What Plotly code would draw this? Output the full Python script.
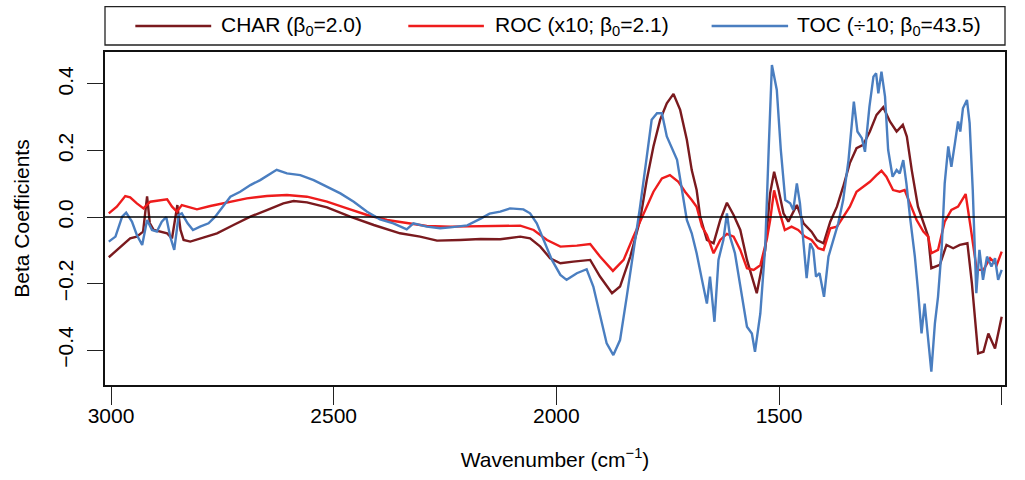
import plotly.graph_objects as go

# Beta coefficient spectra (wavenumber in cm^-1, beta)
char_points = [
    (3005, -0.121), (2979, -0.089), (2957, -0.064), (2942, -0.059), (2928, -0.044),
    (2919, 0.062), (2913, -0.018), (2904, -0.039), (2874, -0.049), (2863, -0.064),
    (2851, 0.036), (2844, -0.039), (2837, -0.069), (2822, -0.074), (2800, -0.064),
    (2762, -0.049), (2725, -0.024), (2687, 0.001), (2650, 0.021), (2613, 0.041),
    (2590, 0.048), (2560, 0.044), (2515, 0.029), (2463, 0.001), (2410, -0.024),
    (2351, -0.049), (2306, -0.059), (2268, -0.071), (2216, -0.069), (2170, -0.066),
    (2126, -0.067), (2081, -0.059), (2059, -0.064), (2036, -0.089), (2014, -0.124),
    (1991, -0.139), (1962, -0.134), (1924, -0.129), (1902, -0.179), (1875, -0.229),
    (1857, -0.209), (1834, -0.119), (1812, -0.009), (1797, 0.111), (1782, 0.212),
    (1767, 0.292), (1752, 0.342), (1737, 0.370), (1722, 0.322), (1707, 0.232),
    (1696, 0.141), (1685, 0.081), (1677, 0.001), (1662, -0.069), (1647, -0.079),
    (1632, -0.009), (1617, 0.043), (1602, 0.006), (1587, -0.039), (1572, -0.129),
    (1550, -0.229), (1531, -0.099), (1520, 0.071), (1511, 0.136), (1501, 0.081),
    (1490, 0.011), (1479, -0.014), (1460, 0.036), (1445, -0.019), (1427, -0.044),
    (1415, -0.069), (1400, -0.079), (1385, -0.014), (1370, 0.031), (1356, 0.091),
    (1341, 0.162), (1326, 0.207), (1311, 0.217), (1296, 0.257), (1281, 0.307),
    (1266, 0.330), (1251, 0.287), (1236, 0.257), (1222, 0.277), (1213, 0.242),
    (1202, 0.141), (1188, 0.031), (1176, -0.019), (1165, -0.059), (1158, -0.154),
    (1139, -0.144), (1124, -0.084), (1109, -0.094), (1094, -0.084), (1077, -0.079),
    (1067, -0.199), (1053, -0.410), (1041, -0.405), (1030, -0.350), (1015, -0.395),
    (1000, -0.300),
]

roc_points = [
    (3005, 0.011), (2987, 0.031), (2968, 0.063), (2957, 0.059), (2942, 0.041),
    (2927, 0.026), (2912, 0.046), (2893, 0.049), (2874, 0.053), (2863, 0.031),
    (2852, 0.016), (2841, 0.036), (2826, 0.031), (2807, 0.023), (2777, 0.033),
    (2740, 0.044), (2695, 0.056), (2650, 0.063), (2605, 0.066), (2560, 0.061),
    (2515, 0.046), (2470, 0.026), (2425, 0.006), (2380, -0.009), (2336, -0.019),
    (2291, -0.027), (2238, -0.029), (2180, -0.028), (2126, -0.029), (2081, -0.026),
    (2051, -0.039), (2021, -0.069), (1991, -0.089), (1954, -0.086), (1924, -0.081),
    (1902, -0.119), (1873, -0.162), (1849, -0.129), (1827, -0.059), (1804, 0.011),
    (1782, 0.076), (1763, 0.116), (1745, 0.126), (1726, 0.106), (1711, 0.076),
    (1696, 0.051), (1685, 0.031), (1673, -0.029), (1662, -0.054), (1647, -0.109),
    (1632, -0.069), (1617, -0.051), (1602, -0.059), (1587, -0.099), (1572, -0.154),
    (1557, -0.159), (1542, -0.145), (1527, -0.064), (1520, -0.010), (1511, 0.080),
    (1500, 0.020), (1487, -0.039), (1472, -0.029), (1457, -0.039), (1442, -0.059),
    (1427, -0.069), (1412, -0.094), (1400, -0.099), (1385, -0.034), (1370, -0.029),
    (1356, 0.001), (1341, 0.031), (1326, 0.076), (1311, 0.091), (1296, 0.106),
    (1281, 0.126), (1270, 0.139), (1259, 0.121), (1244, 0.081), (1229, 0.076),
    (1218, 0.081), (1206, 0.041), (1191, -0.009), (1176, -0.044), (1165, -0.059),
    (1158, -0.109), (1143, -0.099), (1128, -0.014), (1113, 0.021), (1098, 0.031),
    (1081, 0.069), (1070, -0.029), (1056, -0.159), (1041, -0.159), (1026, -0.124),
    (1011, -0.144), (1000, -0.104),
]

toc_points = [
    (3005, -0.074), (2990, -0.059), (2975, 0.001), (2966, 0.013), (2953, -0.014),
    (2942, -0.054), (2930, -0.084), (2919, -0.009), (2908, -0.039), (2897, -0.044),
    (2886, -0.014), (2876, 0.000), (2867, -0.059), (2858, -0.099), (2848, 0.006),
    (2841, 0.011), (2828, -0.019), (2816, -0.039), (2800, -0.029), (2781, -0.019),
    (2766, 0.001), (2747, 0.036), (2732, 0.061), (2710, 0.076), (2687, 0.096),
    (2665, 0.111), (2642, 0.129), (2628, 0.142), (2605, 0.131), (2575, 0.126),
    (2545, 0.111), (2515, 0.091), (2485, 0.071), (2455, 0.046), (2425, 0.016),
    (2396, -0.007), (2366, -0.019), (2336, -0.037), (2321, -0.019), (2291, -0.029),
    (2261, -0.034), (2238, -0.031), (2200, -0.025), (2170, -0.005), (2150, 0.010),
    (2126, 0.016), (2104, 0.026), (2074, 0.023), (2059, 0.011), (2044, -0.019),
    (2029, -0.069), (2010, -0.129), (1991, -0.174), (1977, -0.189), (1954, -0.169),
    (1932, -0.157), (1917, -0.209), (1902, -0.290), (1887, -0.380), (1872, -0.415),
    (1857, -0.370), (1842, -0.240), (1827, -0.109), (1812, 0.031), (1797, 0.181),
    (1786, 0.292), (1774, 0.312), (1763, 0.312), (1752, 0.242), (1741, 0.207),
    (1729, 0.172), (1718, 0.081), (1707, -0.009), (1696, -0.049), (1685, -0.109),
    (1673, -0.189), (1662, -0.260), (1655, -0.179), (1645, -0.315), (1636, -0.129),
    (1625, -0.069), (1617, 0.011), (1610, -0.059), (1599, -0.109), (1587, -0.209),
    (1572, -0.330), (1561, -0.350), (1554, -0.405), (1542, -0.290), (1531, -0.089),
    (1523, 0.212), (1516, 0.457), (1505, 0.382), (1496, 0.202), (1486, 0.051),
    (1475, 0.041), (1468, 0.021), (1460, 0.101), (1453, 0.041), (1445, -0.079),
    (1438, -0.184), (1430, -0.079), (1423, -0.099), (1417, -0.179), (1409, -0.169),
    (1399, -0.240), (1389, -0.119), (1378, -0.069), (1367, -0.019), (1356, 0.051),
    (1344, 0.171), (1332, 0.347), (1324, 0.257), (1314, 0.237), (1307, 0.196),
    (1297, 0.332), (1288, 0.422), (1282, 0.432), (1277, 0.372), (1270, 0.437),
    (1262, 0.362), (1255, 0.202), (1245, 0.121), (1236, 0.141), (1229, 0.131),
    (1221, 0.171), (1214, 0.101), (1206, 0.001), (1195, -0.119), (1188, -0.220),
    (1180, -0.350), (1173, -0.260), (1165, -0.370), (1158, -0.465), (1150, -0.320),
    (1143, -0.240), (1135, -0.099), (1128, 0.101), (1120, 0.212), (1113, 0.151),
    (1105, 0.222), (1098, 0.287), (1093, 0.257), (1087, 0.327), (1078, 0.352),
    (1072, 0.282), (1065, 0.081), (1057, -0.229), (1050, -0.099), (1042, -0.189),
    (1033, -0.119), (1023, -0.149), (1015, -0.124), (1008, -0.189), (1000, -0.159),
]

series_names = ["CHAR", "ROC", "TOC"]
legend_labels = [
    "CHAR (β<sub>0</sub>=2.0)",
    "ROC (x10; β<sub>0</sub>=2.1)",
    "TOC (÷10; β<sub>0</sub>=43.5)",
]
x_ticks = [3000, 2500, 2000, 1500, 1000]
y_ticks = [-0.4, -0.2, 0.0, 0.2, 0.4]

colors = ["#7A1A1E", "#EE1C1C", "#4A7EC0"]
FONT = "Liberation Sans, Arial, sans-serif"

fig = go.Figure()
for name, pts, col in zip(series_names, [char_points, roc_points, toc_points], colors):
    wn, beta = zip(*pts)
    fig.add_trace(go.Scatter(
        x=list(wn), y=list(beta), mode="lines", name=name,
        line=dict(color=col, width=2.4), showlegend=False,
    ))

# horizontal reference line at zero
fig.add_shape(type="line", xref="paper", yref="y", x0=0, x1=1, y0=0, y1=0,
              line=dict(color="black", width=1.6), layer="above")

# legend frame above the plot
fig.add_shape(type="rect", xref="paper", yref="paper", x0=0, x1=1, y0=1.021, y1=1.136,
              line=dict(color="#222", width=1.3), fillcolor="white")
legend_line_x = [(0.0337, 0.118), (0.337, 0.421), (0.674, 0.759)]
legend_text_x = [0.127, 0.431, 0.767]
ly = 1.078
for (x0, x1), tx, lab, col in zip(legend_line_x, legend_text_x, legend_labels, colors):
    fig.add_shape(type="line", xref="paper", yref="paper", x0=x0, x1=x1, y0=ly, y1=ly,
                  line=dict(color=col, width=2.4))
    fig.add_annotation(xref="paper", yref="paper", x=tx, y=ly, text=lab, showarrow=False,
                       xanchor="left", yanchor="middle",
                       font=dict(family=FONT, size=21, color="black"))

fig.update_layout(
    width=1025, height=480,
    margin=dict(l=105, r=20, t=52, b=95),
    paper_bgcolor="white", plot_bgcolor="white",
    font=dict(family=FONT, size=21, color="black"),
    xaxis=dict(
        range=[3013.5, 992.6], tickvals=x_ticks, ticks="outside", ticklen=18,
        tickwidth=1.3, tickcolor="#222", showline=True, linecolor="#111", linewidth=2,
        mirror=True, showgrid=False, zeroline=False, ticklabelstandoff=-7,
        tickfont=dict(family=FONT, size=21),
        title=dict(text="Wavenumber (cm<sup>−1</sup>)", font=dict(family=FONT, size=21),
                   standoff=26),
    ),
    yaxis=dict(
        range=[-0.505, 0.496], tickvals=y_ticks, tickformat=".1f", tickangle=-90,
        ticks="outside", ticklen=16, tickwidth=1.3, tickcolor="#222",
        showline=True, linecolor="#111", linewidth=2, mirror=True,
        showgrid=False, zeroline=False, ticklabelstandoff=6,
        tickfont=dict(family=FONT, size=21),
        title=dict(text="Beta Coefficients", font=dict(family=FONT, size=21), standoff=18),
    ),
)

fig.write_html("out.html")
